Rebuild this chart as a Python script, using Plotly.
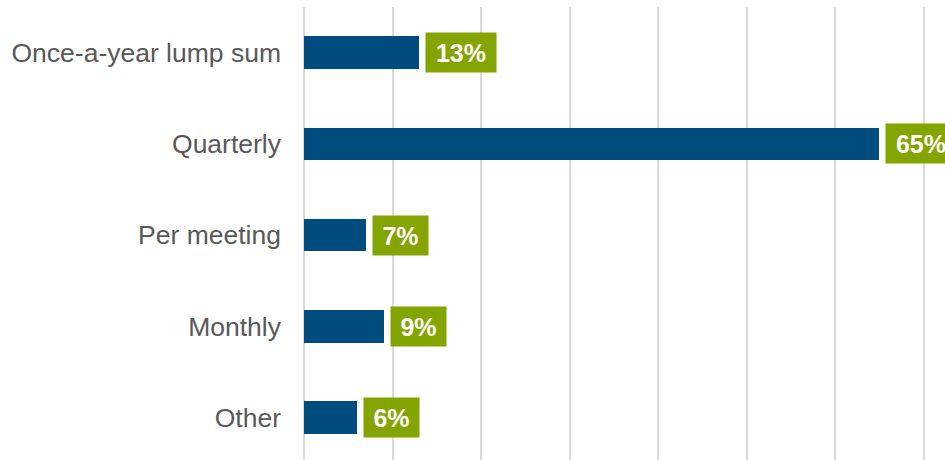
import plotly.graph_objects as go

# Payment frequency survey results
categories = ["Once-a-year lump sum", "Quarterly", "Per meeting", "Monthly", "Other"]
shares = [13, 65, 7, 9, 6]
labels = [f"{v}%" for v in shares]

bar_color = "#004C7E"
label_bg = "#84A400"
positions = list(range(len(categories)))

fig = go.Figure(
    go.Bar(
        x=shares,
        y=positions,
        orientation="h",
        width=0.356,
        marker=dict(color=bar_color, line=dict(width=0)),
        hoverinfo="skip",
    )
)

# Value labels in filled boxes just past each bar end
for pos, val, txt in zip(positions, shares, labels):
    fig.add_annotation(
        x=val, y=pos, xref="x", yref="y",
        text=f"<b>{txt}</b>",
        showarrow=False,
        xanchor="left", yanchor="middle",
        xshift=6,
        bgcolor=label_bg,
        borderpad=3,
        width=15 * len(txt) + 19,
        height=33,
        align="center",
        font=dict(family="Liberation Sans, Arial, sans-serif", size=25, color="white"),
    )

fig.update_layout(
    width=945, height=460,
    margin=dict(l=304, r=0, t=7, b=0),
    paper_bgcolor="white", plot_bgcolor="white",
    showlegend=False,
    bargap=0,
    xaxis=dict(
        range=[0, 72.4],
        dtick=10,
        showgrid=True, gridcolor="#D9D9D9", gridwidth=1.5,
        zeroline=True, zerolinecolor="#D9D9D9", zerolinewidth=1.5,
        showticklabels=False, showline=False,
        fixedrange=True,
    ),
    yaxis=dict(
        range=[4.464, -0.5],
        tickmode="array", tickvals=positions, ticktext=categories,
        showgrid=False, zeroline=False, showline=False,
        ticks="", ticklabelstandoff=22,
        tickfont=dict(family="Liberation Sans, Arial, sans-serif", size=26.5, color="#595959"),
    ),
)

fig.write_html("out.html")
